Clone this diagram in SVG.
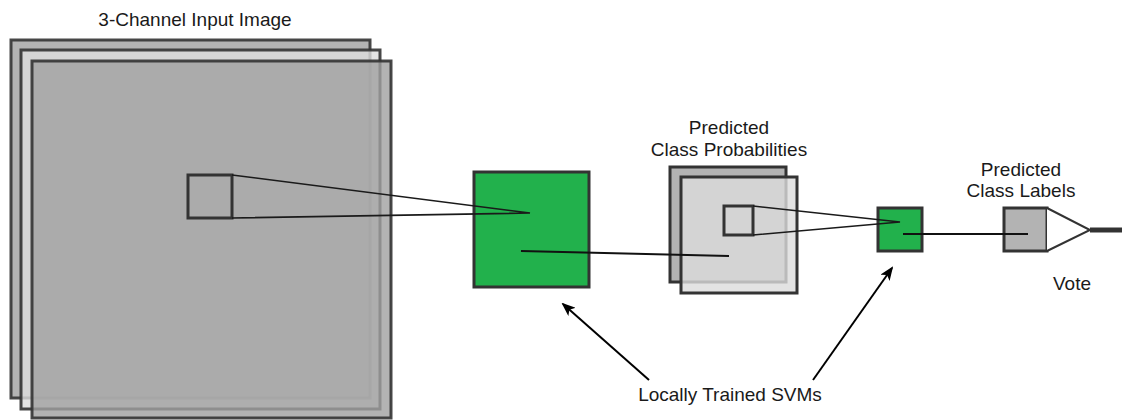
<svg xmlns="http://www.w3.org/2000/svg" width="1122" height="420" viewBox="0 0 1122 420">
  <defs>
    <style>
      .lbl { font-family: "Liberation Sans", Arial, sans-serif; font-size: 19px; fill: #1a1a1a; text-anchor: middle; }
      .layer { stroke: #333333; stroke-width: 3; fill-opacity: 0.8; stroke-opacity: 0.9; }
      .box { stroke: #333333; stroke-width: 3; }
      .svm { fill: #22b14c; stroke: #333333; stroke-width: 3; }
      .proj { fill: none; stroke: #1a1a1a; stroke-width: 1.6; }
      .link { fill: none; stroke: #111111; stroke-width: 2; }
      .pointer { fill: none; stroke: #000000; stroke-width: 2; marker-end: url(#head); }
    </style>
    <marker id="head" viewBox="0 0 14 11" refX="12" refY="5.5" markerWidth="14" markerHeight="11" markerUnits="userSpaceOnUse" orient="auto">
      <path d="M0,0 L14,5.5 L0,11 L3.5,5.5 Z" fill="#000000"/>
    </marker>
  </defs>

  <!-- input image: three stacked channels -->
  <g id="input-image">
    <rect class="layer" x="11" y="40" width="359" height="358" fill="#a0a0a0"/>
    <rect class="layer" x="21" y="50" width="359" height="359" fill="#dedede"/>
    <rect class="layer" x="32" y="61" width="359" height="357" fill="#a0a0a0"/>
    <rect class="box" x="188" y="175" width="44" height="43" fill="none"/>
    <text class="lbl" x="195" y="26">3-Channel Input Image</text>
  </g>

  <!-- first SVM -->
  <g id="svm-1">
    <rect class="svm" x="474" y="172" width="115" height="115"/>
  </g>

  <!-- predicted class probabilities -->
  <g id="probabilities">
    <rect class="box" x="670" y="167" width="116" height="115" fill="#b3b3b3"/>
    <rect class="box" x="681" y="177" width="116" height="116" fill="#dcdcdc" fill-opacity="0.8"/>
    <rect class="box" x="724" y="206" width="29" height="29" fill="none"/>
    <text class="lbl" x="729" y="134">Predicted</text>
    <text class="lbl" x="729" y="156">Class Probabilities</text>
  </g>

  <!-- second SVM -->
  <g id="svm-2">
    <rect class="svm" x="878" y="208" width="44" height="43"/>
  </g>

  <!-- predicted class labels -->
  <g id="labels">
    <rect class="box" x="1004" y="208" width="43" height="43" fill="#b3b3b3"/>
    <text class="lbl" x="1021" y="176">Predicted</text>
    <text class="lbl" x="1021" y="197">Class Labels</text>
  </g>

  <!-- vote -->
  <g id="vote">
    <path d="M1047,208 L1090,230 L1047,251" fill="#ffffff" stroke="#333333" stroke-width="2"/>
    <line x1="1090" y1="230" x2="1122" y2="230" stroke="#333333" stroke-width="5"/>
    <text class="lbl" x="1072" y="290">Vote</text>
  </g>

  <!-- annotation -->
  <g id="svm-note">
    <text class="lbl" x="730" y="401">Locally Trained SVMs</text>
  </g>

  <!-- connectors -->
  <g id="connectors">
    <polyline class="proj" points="232,175 530,213 232,218"/>
    <line class="link" x1="521" y1="251" x2="729" y2="256"/>
    <polyline class="proj" points="753,206 900,222 753,235"/>
    <line class="link" x1="903" y1="234" x2="1028" y2="234"/>
    <line class="pointer" x1="649" y1="380" x2="563" y2="304"/>
    <line class="pointer" x1="813" y1="380" x2="892" y2="268"/>
  </g>
</svg>
